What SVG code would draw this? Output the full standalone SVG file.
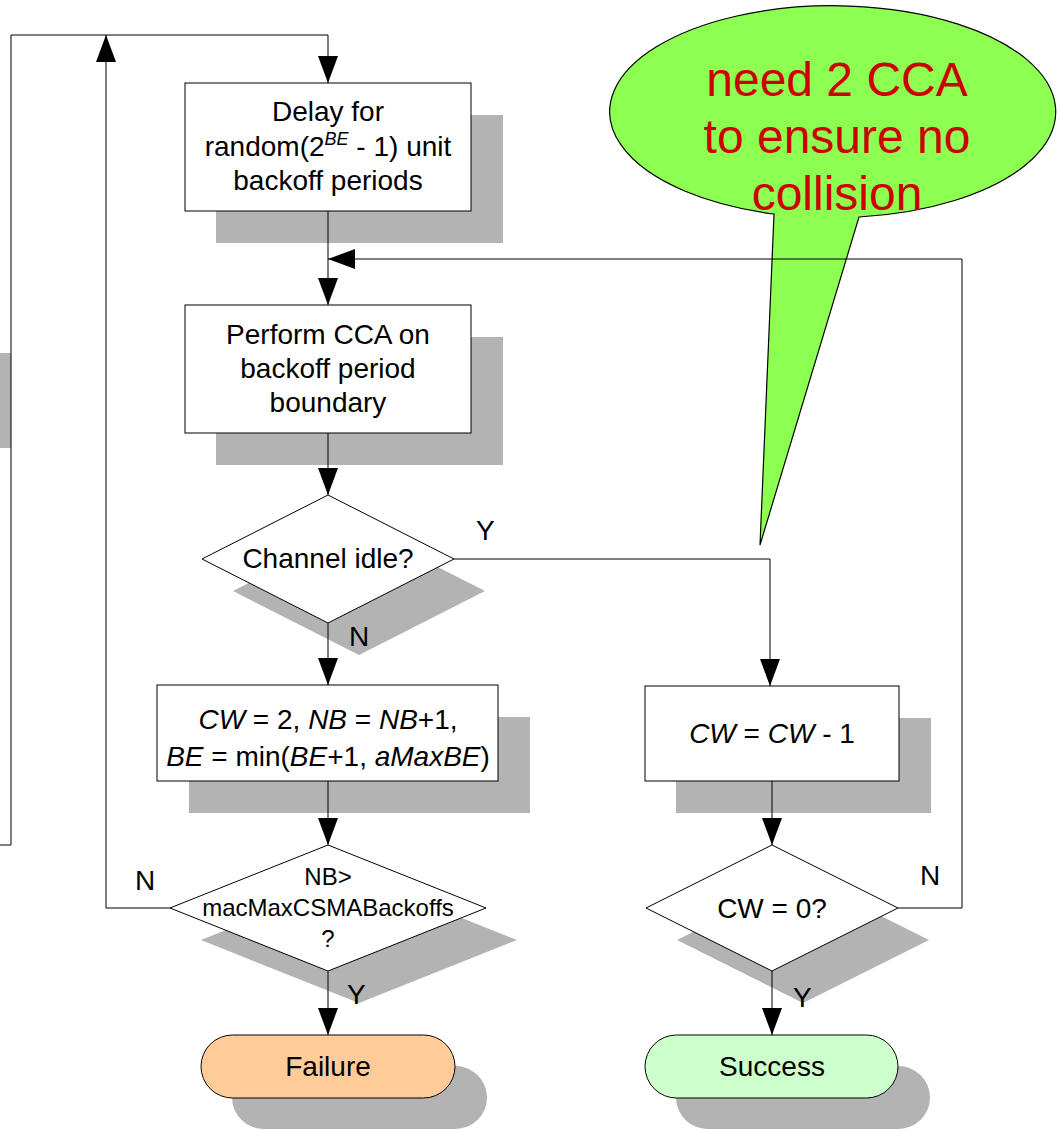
<svg xmlns="http://www.w3.org/2000/svg" width="1057" height="1130" viewBox="0 0 1057 1130">
  <defs>
    <marker id="arrow" markerUnits="userSpaceOnUse" markerWidth="28" markerHeight="20" refX="27" refY="10" orient="auto">
      <path d="M0,0 L27,10 L0,20 z" fill="#000"/>
    </marker>
    <style>
      text { font-family: "Liberation Sans", Arial, sans-serif; fill: #000; }
      .t { font-size: 28px; text-anchor: middle; }
      .s { font-size: 24px; text-anchor: middle; }
      .lbl { font-size: 28px; }
      .sup { font-size: 18px; font-style: italic; }
      .it { font-style: italic; }
      .shadow { fill: #b3b3b3; stroke: none; }
      .box { fill: #fff; stroke: #000; stroke-width: 1; }
      .conn { fill: none; stroke: #000; stroke-width: 1; }
      .note { font-size: 48px; fill: #cc0000; text-anchor: middle; }
    </style>
  </defs>

  <rect width="1057" height="1130" fill="#fff"/>

  <!-- partly visible node at the left edge -->
  <rect class="shadow" x="0" y="353" width="11" height="95"/>

  <!-- speech bubble -->
  <g id="note">
    <path d="M774,214 A223,106 0 1 1 859,217 L760,545 Z" fill="#8cff50" stroke="#000" stroke-width="1.2"/>
    <text class="note" x="837" y="96">need 2 CCA</text>
    <text class="note" x="837" y="153">to ensure no</text>
    <text class="note" x="837" y="210">collision</text>
  </g>

  <g id="delay">
    <rect class="shadow" x="216" y="115" width="287" height="128"/>
    <rect class="box" x="185" y="83" width="286" height="128"/>
    <text class="t" x="328" y="121">Delay for</text>
    <text class="t" x="328" y="156">random(2<tspan class="sup" dy="-11">BE</tspan><tspan dy="11"> - 1) unit</tspan></text>
    <text class="t" x="328" y="190">backoff periods</text>
  </g>

  <g id="cca">
    <rect class="shadow" x="216" y="337" width="287" height="128"/>
    <rect class="box" x="185" y="305" width="286" height="128"/>
    <text class="t" x="328" y="344">Perform CCA on</text>
    <text class="t" x="328" y="378">backoff period</text>
    <text class="t" x="328" y="412">boundary</text>
  </g>

  <g id="idle">
    <polygon class="shadow" points="359,527 485,591 359,655 233,591"/>
    <polygon class="box" points="328,495 454,559 328,623 202,559"/>
    <text class="t" x="328" y="568">Channel idle?</text>
  </g>

  <g id="update">
    <rect class="shadow" x="189" y="717" width="341" height="96"/>
    <rect class="box" x="157" y="685" width="341" height="96"/>
    <text class="t" x="328" y="729"><tspan class="it">CW</tspan> = 2, <tspan class="it">NB</tspan> = <tspan class="it">NB</tspan>+1,</text>
    <text class="t" x="328" y="766"><tspan class="it">BE</tspan> = min(<tspan class="it">BE</tspan>+1, <tspan class="it">aMaxBE</tspan>)</text>
  </g>

  <g id="decrement">
    <rect class="shadow" x="676" y="718" width="255" height="95"/>
    <rect class="box" x="645" y="686" width="254" height="95"/>
    <text class="t" x="772" y="743"><tspan class="it">CW</tspan> = <tspan class="it">CW</tspan> - 1</text>
  </g>

  <g id="maxbackoff">
    <polygon class="shadow" points="359,877 517,940 359,1003 201,940"/>
    <polygon class="box" points="328,845 486,908 328,971 170,908"/>
    <text class="s" x="328" y="885">NB&gt;</text>
    <text class="s" x="328" y="916">macMaxCSMABackoffs</text>
    <text class="s" x="328" y="947">?</text>
  </g>

  <g id="cwzero">
    <polygon class="shadow" points="803,877 929,940 803,1003 677,940"/>
    <polygon class="box" points="772,845 898,908 772,971 646,908"/>
    <text class="t" x="772" y="918">CW = 0?</text>
  </g>

  <g id="failure">
    <rect class="shadow" x="232" y="1066" width="255" height="63" rx="31.5"/>
    <rect x="201" y="1035" width="254" height="63" rx="31.5" fill="#ffcc99" stroke="#000"/>
    <text class="t" x="328" y="1076">Failure</text>
  </g>

  <g id="success">
    <rect class="shadow" x="676" y="1066" width="254" height="63" rx="31.5"/>
    <rect x="645" y="1035" width="253" height="63" rx="31.5" fill="#ccffcc" stroke="#000"/>
    <text class="t" x="772" y="1076">Success</text>
  </g>

  <g id="connectors">
    <path class="conn" d="M0,845 L11,845 L11,35 L328,35 L328,83" marker-end="url(#arrow)"/>
    <path class="conn" d="M170,908 L106,908 L106,35" marker-end="url(#arrow)"/>
    <path class="conn" d="M328,211 L328,305" marker-end="url(#arrow)"/>
    <path class="conn" d="M898,908 L962,908 L962,259 L328,259" marker-end="url(#arrow)"/>
    <path class="conn" d="M328,433 L328,495" marker-end="url(#arrow)"/>
    <path class="conn" d="M454,559 L770,559 L770,686" marker-end="url(#arrow)"/>
    <path class="conn" d="M328,623 L328,685" marker-end="url(#arrow)"/>
    <path class="conn" d="M328,781 L328,845" marker-end="url(#arrow)"/>
    <path class="conn" d="M328,971 L328,1035" marker-end="url(#arrow)"/>
    <path class="conn" d="M772,781 L772,845" marker-end="url(#arrow)"/>
    <path class="conn" d="M772,971 L772,1035" marker-end="url(#arrow)"/>
  </g>

  <g id="labels">
    <text class="lbl" x="476" y="540">Y</text>
    <text class="lbl" x="349" y="646">N</text>
    <text class="lbl" x="135" y="890">N</text>
    <text class="lbl" x="347" y="1004">Y</text>
    <text class="lbl" x="920" y="885">N</text>
    <text class="lbl" x="793" y="1007">Y</text>
  </g>
</svg>
